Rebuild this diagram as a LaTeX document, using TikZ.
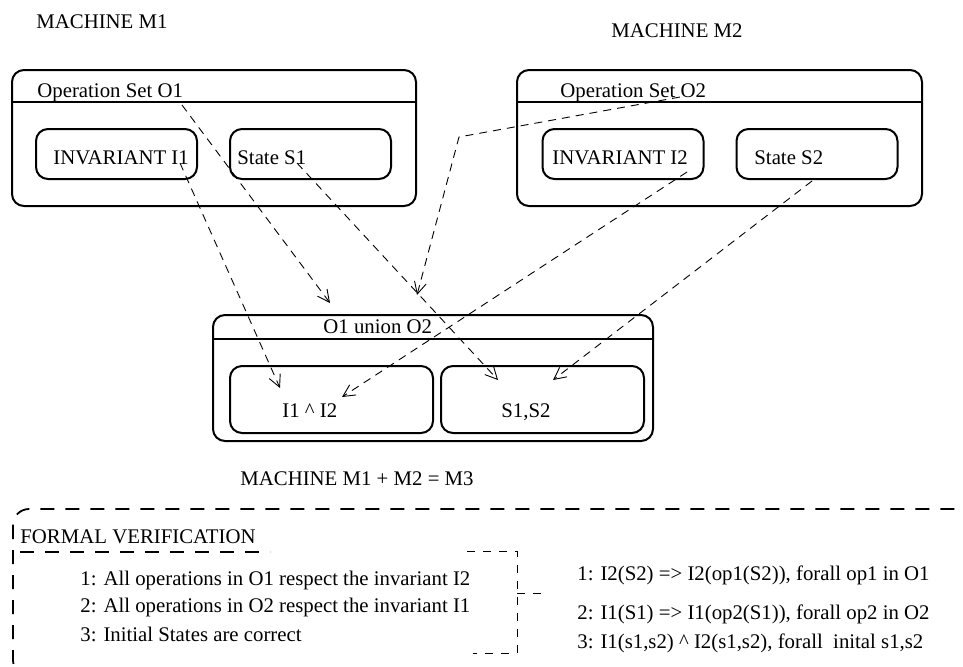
\documentclass[tikz,border=0pt]{standalone}
\usepackage{fontspec}
\setmainfont{Liberation Serif}
\usetikzlibrary{arrows.meta}

\begin{document}
\begin{tikzpicture}[
                    x=0.5pt, y=-0.5pt, % one unit is one pixel of the drawing
                    every node/.style={font=\fontsize{10.4}{12}\selectfont, inner sep=0pt},
                    txt/.style={anchor=base west},
                    machine/.style={draw, line width=1pt, rounded corners=6pt, minimum height=68pt},
                    part/.style={draw, line width=1pt, rounded corners=6pt, minimum width=80.5pt, minimum height=25pt},
                    merged/.style={part, minimum width=101.5pt, minimum height=33.5pt},
                    link/.style={line width=0.45pt, dash pattern=on 4pt off 3pt, -{Straight Barb[length=6pt,width=6pt]}},
                    frame/.style={line width=0.9pt, dash pattern=on 7pt off 5.5pt},
                    brace/.style={line width=0.45pt, dash pattern=on 4pt off 4pt}
                ]
                \useasboundingbox (0,0) rectangle (963,666);
                \clip (0,0) rectangle (963,666);

                % machine M1
                \node[txt] (m1) at (36,28) {MACHINE M1};
                \node[machine, minimum width=202pt] (o1) at (214,138) {};
                \draw[line width=1pt] ([yshift=-16.5pt]o1.north west) -- ([yshift=-16.5pt]o1.north east);
                \node[txt] (ops1) at (37,97) {Operation Set O1};
                \node[part] (inv1) at (116.5,154) {};
                \node[part] (st1) at (310.5,154) {};
                \node[txt] (inv1t) at (53,164) {INVARIANT I1};
                \node[txt] (st1t) at (237,164) {State S1};

                % machine M2
                \node[txt] (m2) at (611,37) {MACHINE M2};
                \node[machine, minimum width=202.5pt] (o2) at (719.5,138) {};
                \draw[line width=1pt] ([yshift=-16.5pt]o2.north west) -- ([yshift=-16.5pt]o2.north east);
                \node[txt] (ops2) at (560,97) {Operation Set O2};
                \node[part] (inv2) at (623,154) {};
                \node[part] (st2) at (817,154) {};
                \node[txt] (inv2t) at (552,164) {INVARIANT I2};
                \node[txt] (st2t) at (754,164) {State S2};

                % machine M3
                \node[machine, minimum width=220pt, minimum height=63pt] (m3) at (433,378) {};
                \draw[line width=1pt] ([yshift=-12.5pt]m3.north west) -- ([yshift=-12.5pt]m3.north east);
                \node[txt] (ops3) at (323,333) {O1 union O2};
                \node[merged] (inv3) at (331.5,399.5) {};
                \node[merged] (st3) at (542.5,399.5) {};
                \node[txt] (inv3t) at (282,417) {I1 \textasciicircum{} I2};
                \node[txt] (st3t) at (501,417) {S1,S2};
                \node[txt] (m3t) at (240,485) {MACHINE M1 + M2 = M3};

                % composition links
                \coordinate (s1) at (182,105);  \coordinate (e1) at (330,303);
                \coordinate (s2) at (180,163);  \coordinate (e2) at (280,388);
                \coordinate (s3) at (297,163);  \coordinate (e3) at (498,380);
                \coordinate (s4) at (680,97);   \coordinate (k4) at (459,137);
                \coordinate (e4) at (417,295);
                \coordinate (s5) at (687,172);  \coordinate (e5) at (342,397);
                \coordinate (s6) at (812,181);  \coordinate (e6) at (553,380);
                \draw[link] (s1) -- (e1);
                \draw[link] (s2) -- (e2);
                \draw[link] (s3) -- (e3);
                \draw[link] (s4) -- (k4) -- (e4);
                \draw[link] (s5) -- (e5);
                \draw[link] (s6) -- (e6);

                % verification frame
                \draw[frame, rounded corners=8pt] (13,509) rectangle (1010,676);
                \node[txt] (fv) at (20,543) {FORMAL VERIFICATION};
                \draw[frame] (20,552) -- (270,552);
                \node[txt] (ver1) at (80,585) {1: All operations in O1 respect the invariant I2};
                \node[txt] (ver2) at (80,612) {2: All operations in O2 respect the invariant I1};
                \node[txt] (ver3) at (80,641) {3: Initial States are correct};
                \draw[brace] (467,551) -- (517,551) -- (517,653) -- (473,653);
                \draw[brace] (517,593) -- (543,593);
                \node[txt] (eq1) at (577,580) {1: I2(S2) => I2(op1(S2)), forall op1 in O1};
                \node[txt] (eq2) at (577,619) {2: I1(S1) => I1(op2(S1)), forall op2 in O2};
                \node[txt] (eq3) at (577,648) {3: I1(s1,s2) \textasciicircum{} I2(s1,s2), forall\ \ inital s1,s2};
            \end{tikzpicture}
\end{document}
